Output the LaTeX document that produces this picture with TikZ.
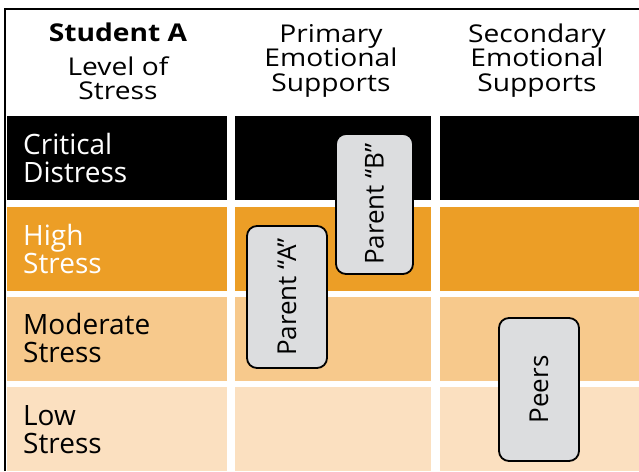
\documentclass[tikz,border=0pt]{standalone}
\usepackage{fontspec}
\setmainfont{Open Sans}
\newfontfamily\hdrfont{Open Sans}[FakeStretch=1.15]
\definecolor{critc}{RGB}{0,0,0}
\definecolor{highc}{RGB}{236,158,38}
\definecolor{modc}{RGB}{247,201,140}
\definecolor{lowc}{RGB}{251,224,192}
\definecolor{boxc}{RGB}{220,221,223}
\begin{document}
\begin{tikzpicture}[x=1pt,y=-1pt,
  hdr/.style={anchor=base,font=\hdrfont\fontsize{24.5}{24}\selectfont,inner sep=0pt},
  lbl/.style={anchor=base west,font=\fontsize{28}{28}\selectfont,inner sep=0pt},
  sup/.style={draw=black,line width=1.8pt,fill=boxc,rounded corners=10pt,
    font=\fontsize{26}{26}\selectfont,rotate=90,inner sep=0pt,anchor=center}]
\useasboundingbox (0,0) rectangle (639,471);
\fill[white] (0,0) rectangle (639,471);
% cells
\foreach \xa/\xb in {7/227,235/431,440/639}{
  \fill[critc] (\xa,116) rectangle (\xb,200);
  \fill[highc] (\xa,207) rectangle (\xb,291);
  \fill[modc]  (\xa,297) rectangle (\xb,381);
  \fill[lowc]  (\xa,387) rectangle (\xb,471);
}
% frame
\draw[line width=2pt] (5,471) -- (5,8.5) -- (639,8.5);
% headers
\node[hdr] (h1a) at (118,41) {\bfseries Student A};
\node[hdr] (h1b) at (118,75) {Level of};
\node[hdr] (h1c) at (118,99) {Stress};
\node[hdr] (h2a) at (331,42) {Primary};
\node[hdr] (h2b) at (331,66.5) {Emotional};
\node[hdr] (h2c) at (331,91) {Supports};
\node[hdr] (h3a) at (537,42) {Secondary};
\node[hdr] (h3b) at (537,66.5) {Emotional};
\node[hdr] (h3c) at (537,91) {Supports};
% row labels
\node[lbl,text=white] (r1a) at (23,154) {Critical};
\node[lbl,text=white] (r1b) at (23,182) {Distress};
\node[lbl,text=white] (r2a) at (23,245) {High};
\node[lbl,text=white] (r2b) at (23,273) {Stress};
\node[lbl] (r3a) at (23,334) {Moderate};
\node[lbl] (r3b) at (23,362) {Stress};
\node[lbl] (r4a) at (23,425) {Low};
\node[lbl] (r4b) at (23,453) {Stress};
% supports
\node[sup,minimum width=140pt,minimum height=77pt] (pb) at (374.5,204) {Parent “B”};
\node[sup,minimum width=142pt,minimum height=80pt] (pa) at (287,297) {Parent “A”};
\node[sup,minimum width=143pt,minimum height=80pt] (pe) at (539,389.5) {Peers};
\end{tikzpicture}
\end{document}
